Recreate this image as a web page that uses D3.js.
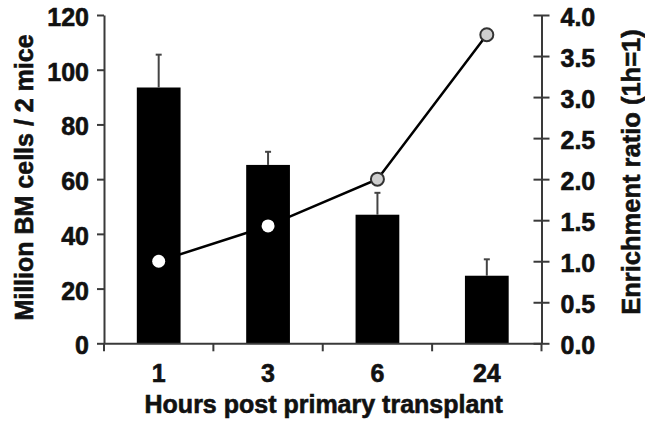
<!DOCTYPE html>
<html>
<head>
<meta charset="utf-8">
<script src="https://cdn.jsdelivr.net/npm/d3@7/dist/d3.min.js"></script>
<style>
  html, body { margin: 0; padding: 0; background: #fff; }
  svg text { font-family: "Liberation Sans", Arial, sans-serif; font-weight: bold; fill: #111; stroke: #111; stroke-width: 0.6px; }
</style>
</head>
<body>
<svg id="chart" width="645" height="422"></svg>
<script>
// ---- data ----
const categories = ["1", "3", "6", "24"];
const cellCounts = [93.5, 65.2, 47, 24.7];      // Million BM cells / 2 mice
const cellErrors = [12, 4.8, 8, 6];             // upper error
const enrichment = [1.0, 1.43, 2.0, 3.76];      // Enrichment ratio (1h=1)
const leftTicks = [0, 20, 40, 60, 80, 100, 120];
const rightTicks = [0, 0.5, 1, 1.5, 2, 2.5, 3, 3.5, 4];

// ---- layout ----
const svg = d3.select("#chart");
const mLeft = 104, mRight = 541.5, mTop = 15, mBottom = 343.3;
const axisColor = "#3a3a3a";
const tickFont = 25;

const x = d3.scaleBand().domain(categories).range([mLeft, mRight]).paddingInner(0.6).paddingOuter(0.3);
const xOuter = d3.scaleBand().domain(categories).range([mLeft, mRight]).padding(0);
const yL = d3.scaleLinear().domain([0, 120]).range([mBottom, mTop]);
const yR = d3.scaleLinear().domain([0, 4]).range([mBottom, mTop]);

// bars
svg.append("g").selectAll("rect").data(cellCounts).join("rect")
  .attr("x", (d, i) => x(categories[i]))
  .attr("width", x.bandwidth())
  .attr("y", d => yL(d))
  .attr("height", d => yL(0) - yL(d))
  .attr("fill", "#000");

// error bars (upper)
const eg = svg.append("g").attr("stroke", "#444").attr("stroke-width", 2);
cellCounts.forEach((d, i) => {
  const cx = x(categories[i]) + x.bandwidth() / 2;
  eg.append("line").attr("x1", cx).attr("x2", cx).attr("y1", yL(d)).attr("y2", yL(d + cellErrors[i]));
  eg.append("line").attr("x1", cx - 3).attr("x2", cx + 3).attr("y1", yL(d + cellErrors[i])).attr("y2", yL(d + cellErrors[i]));
});

// axes
const gL = svg.append("g").attr("transform", `translate(${mLeft},0)`)
  .call(d3.axisLeft(yL).tickValues(leftTicks).tickSize(7).tickSizeOuter(0).tickPadding(8).tickFormat(d3.format("d")));
const gR = svg.append("g").attr("transform", `translate(${mRight},0)`)
  .call(d3.axisRight(yR).tickValues(rightTicks).tickSize(8).tickSizeOuter(0).tickPadding(11).tickFormat(d3.format(".1f")));
gR.selectAll(".tick line").attr("x1", -8);
const gX = svg.append("g").attr("transform", `translate(0,${mBottom})`)
  .call(d3.axisBottom(xOuter).tickSize(0).tickSizeOuter(0).tickPadding(21));
// x tick marks at band boundaries
const bounds = categories.map(c => xOuter(c)).concat([mRight]);
gX.append("g").selectAll("line").data(bounds).join("line")
  .attr("x1", d => d).attr("x2", d => d).attr("y1", 0).attr("y2", 8);

[gL, gR, gX].forEach(g => {
  g.selectAll("path, line").attr("stroke", axisColor).attr("stroke-width", 2);
  g.selectAll("text").style("font-size", tickFont + "px").attr("fill", "#111");
});
gL.selectAll("text").attr("dy", "0.42em");
gR.selectAll("text").attr("dy", "0.42em");

// line
const pts = enrichment.map((v, i) => [xOuter(categories[i]) + xOuter.bandwidth() / 2, yR(v)]);
svg.append("path").datum(pts).attr("d", d3.line())
  .attr("fill", "none").attr("stroke", "#000").attr("stroke-width", 2.5);
svg.append("g").selectAll("circle").data(pts).join("circle")
  .attr("cx", d => d[0]).attr("cy", d => d[1]).attr("r", 6.5)
  .attr("fill", (d, i) => enrichment[i] < cellCounts[i] / 30 ? "#fff" : "#cfcfcf")
  .attr("stroke", (d, i) => enrichment[i] < cellCounts[i] / 30 ? "none" : "#333")
  .attr("stroke-width", 2);

// titles
svg.append("text").attr("transform", `translate(33,177.5) rotate(-90)`)
  .attr("text-anchor", "middle").style("font-size", "25px").text("Million BM cells / 2 mice");
svg.append("text").attr("transform", `translate(640,172) rotate(-90)`)
  .attr("text-anchor", "middle").style("font-size", "25.5px").text("Enrichment ratio (1h=1)");
svg.append("text").attr("x", (mLeft + mRight) / 2 + 1).attr("y", 413)
  .attr("text-anchor", "middle").style("font-size", "25px").text("Hours post primary transplant");
</script>
</body>
</html>
